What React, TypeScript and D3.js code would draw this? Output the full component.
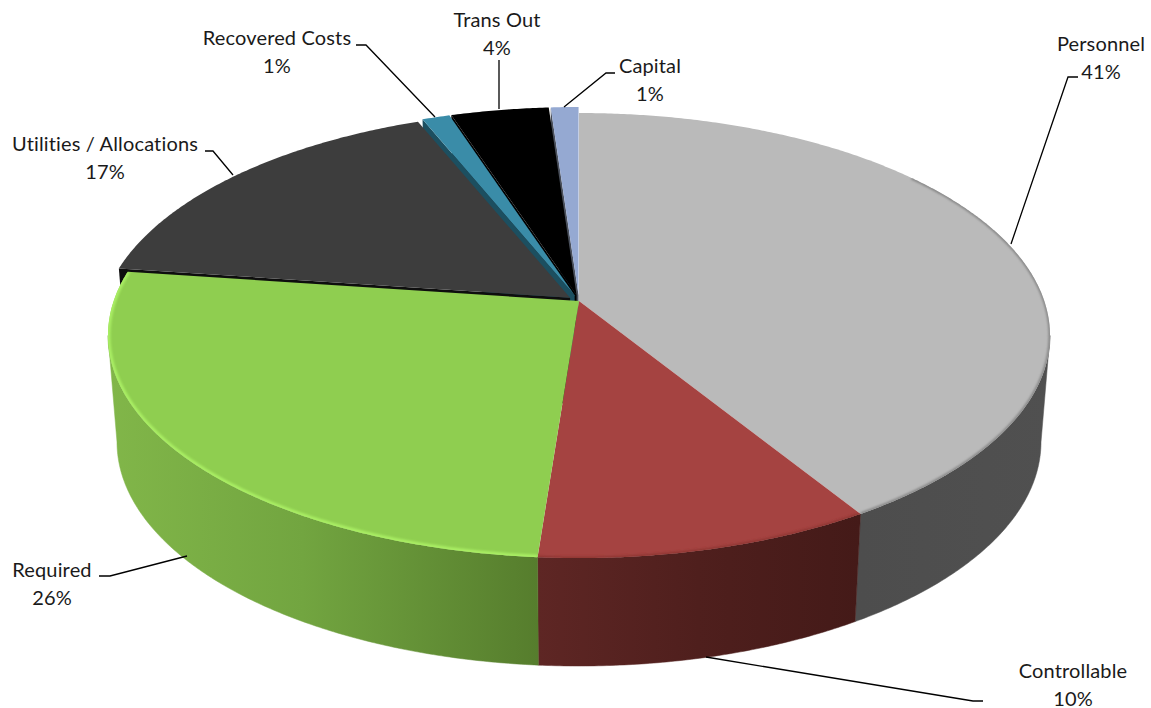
import React from "react";
import * as d3 from "d3";

// Budget shares per category, clockwise from twelve o'clock.
const categories = ["Personnel", "Controllable", "Required", "Utilities / Allocations", "Recovered Costs", "Trans Out", "Capital"];
const shares = [41.2, 10.0, 26.0, 16.7, 1.1, 3.9, 1.1];

const topColors = ["#BABABA", "#A54341", "#8FCE50", "#3D3D3D", "#3A8CA8", "#000000", "#95A9D2"];
const wallColors = ["#4E4E4E", "#4A1C1A", "#5F8A32", "#0E0E0E", "#1C4F60", "#000000", "#4A505C"];
const pulledOut = [0, 0, 0, 0.024, 0.027, 0.027, 0.027];

// Label text anchor, two baselines and the polyline running out to the slice.
const labelX = [1101, 1073, 52, 105, 277, 497, 650];
const labelY = [51, 678, 577, 151, 45, 27, 73];
const leaders: [number, number][][] = [
  [[1011, 244], [1068, 77], [1078, 77]],
  [[706, 657], [973, 701], [983, 701]],
  [[187, 556], [110, 576], [99, 576]],
  [[233, 175], [213, 151], [205, 151]],
  [[435, 117], [366, 45], [356, 45]],
  [[499, 109], [499, 60]],
  [[564, 107], [606, 73], [615, 73]],
];

const WIDTH = 1151;
const HEIGHT = 708;
const PERSPECTIVE = 0.155;

// Top and bottom rims of the drum as ellipses in screen space.
const topX = d3.scaleLinear().domain([-1, 1]).range([579 - 471, 579 + 471]);
const topY = d3.scaleLinear().domain([-1, 1]).range([335.5 + 222.5, 335.5 - 222.5]);
const botX = d3.scaleLinear().domain([-1, 1]).range([579 - 462, 579 + 462]);
const botY = d3.scaleLinear().domain([-1, 1]).range([442 + 224, 442 - 224]);

const pieLayout = d3.pie<number>().sort(null).startAngle(0).endAngle(2 * Math.PI);
const arcs = pieLayout(shares);
const line = d3.line();
const percent = (v: number) => `${d3.format(".0f")(v)}%`;

// Tilted disc: a projective map of the unit circle that keeps straight radii straight.
function discPoint(theta: number): [number, number] {
  const s = Math.sin(theta);
  const c = Math.cos(theta);
  const d = 1 + PERSPECTIVE * c;
  return [(s * Math.sqrt(1 - PERSPECTIVE * PERSPECTIVE)) / d, (c + PERSPECTIVE) / d];
}

function rim(a0: number, a1: number) {
  const n = Math.max(2, Math.ceil(Math.abs(a1 - a0) / 0.008));
  return d3.range(n + 1).map((i) => discPoint(a0 + ((a1 - a0) * i) / n));
}

function offsetOf(i: number): [number, number] {
  const mid = (arcs[i].startAngle + arcs[i].endAngle) / 2;
  return [pulledOut[i] * 471 * Math.sin(mid), -pulledOut[i] * 222.5 * Math.cos(mid)];
}

const onTop = (p: [number, number], o: [number, number]): [number, number] => [topX(p[0]) + o[0], topY(p[1]) + o[1]];
const onBot = (p: [number, number], o: [number, number]): [number, number] => [botX(p[0]) + o[0], botY(p[1]) + o[1]];
const apex: [number, number] = [0, PERSPECTIVE];

function topPath(i: number) {
  const o = offsetOf(i);
  const pts = [onTop(apex, o), ...rim(arcs[i].startAngle, arcs[i].endAngle).map((p) => onTop(p, o))];
  return line(pts) + "Z";
}

function bandPath(i: number, a0: number, a1: number) {
  const o = offsetOf(i);
  const r = rim(a0, a1);
  const pts = [...r.map((p) => onTop(p, o)), ...r.slice().reverse().map((p) => onBot(p, o))];
  return line(pts) + "Z";
}

// Radial wall of a pulled-out wedge, seen through the gap beside it.
function wallPath(i: number, theta: number) {
  const o = offsetOf(i);
  const e = discPoint(theta);
  return line([onTop(apex, o), onTop(e, o), onBot(e, o), onBot(apex, o)]) + "Z";
}

// Visible part of the outer wall runs between the two silhouette tangents.
const frontStart = Math.acos(-PERSPECTIVE);
const frontEnd = 2 * Math.PI - frontStart;
const frontSlices = [0, 1, 2];
const backWallOrder = [6, 5, 4, 3];
const backTopOrder = [3, 4, 5, 6];

const rimColors = ["#858585", "#8E3633", "#A9EE63"];
const rimWidth = [3, 3, 5];
// The grey wedge only darkens along its lower right edge.
const rimFrom = [0.9, 0, 0];

export default function App() {
  return (
    <svg width={WIDTH} height={HEIGHT} viewBox={`0 0 ${WIDTH} ${HEIGHT}`}
      style={{ position: "absolute", left: 0, top: 0, background: "#fff" }}>
      <defs>
        <filter id="soft" x="-5%" y="-5%" width="110%" height="110%">
          <feGaussianBlur stdDeviation="1.1" />
        </filter>
        <linearGradient id="wall0" gradientUnits="userSpaceOnUse" x1="860" x2="1050" y1="0" y2="0">
          <stop offset="0" stopColor="#4D4D4D" />
          <stop offset="1" stopColor="#505050" />
        </linearGradient>
        <linearGradient id="wall1" gradientUnits="userSpaceOnUse" x1="538" x2="860" y1="0" y2="0">
          <stop offset="0" stopColor="#5E2624" />
          <stop offset="0.5" stopColor="#4F1F1D" />
          <stop offset="1" stopColor="#441A18" />
        </linearGradient>
        <linearGradient id="wall2" gradientUnits="userSpaceOnUse" x1="110" x2="538" y1="0" y2="0">
          <stop offset="0" stopColor="#81B649" />
          <stop offset="0.45" stopColor="#72A540" />
          <stop offset="1" stopColor="#567D2D" />
        </linearGradient>
        {frontSlices.map((i) => (
          <clipPath id={`top${i}`} key={i}>
            <path d={topPath(i)} />
          </clipPath>
        ))}
      </defs>

      <g>
        {backWallOrder.map((i) => (
          <path key={`w${i}`} d={wallPath(i, arcs[i].startAngle)} fill={wallColors[i]} />
        ))}
        {backTopOrder.map((i) => (
          <path key={`t${i}`} d={topPath(i)} fill={topColors[i]} />
        ))}
      </g>

      <g>
        {frontSlices.map((i) => {
          const a0 = Math.max(arcs[i].startAngle, frontStart);
          const a1 = Math.min(arcs[i].endAngle, frontEnd);
          return <path key={i} d={bandPath(i, a0, a1)} fill={`url(#wall${i})`} stroke={`url(#wall${i})`} strokeWidth={0.5} />;
        })}
      </g>

      <g>
        {frontSlices.map((i) => (
          <g key={i}>
            <path d={topPath(i)} fill={topColors[i]} />
            <g clipPath={`url(#top${i})`}>
              <path
                d={line(rim(Math.max(arcs[i].startAngle, rimFrom[i]), arcs[i].endAngle).map((p) => onTop(p, [0, 0]))) ?? ""}
                fill="none"
                stroke={rimColors[i]}
                strokeWidth={rimWidth[i]}
                filter="url(#soft)"
              />
            </g>
          </g>
        ))}
      </g>

      <g fill="none" stroke="#000" strokeWidth={1.3}>
        {leaders.map((pts, i) => (
          <path key={i} d={line(pts) ?? ""} />
        ))}
      </g>

      <g fontFamily="Lato, 'Open Sans', sans-serif" fontSize={20} letterSpacing={0.15} fill="#1a1a1a" textAnchor="middle">
        {categories.map((name, i) => (
          <text key={name}>
            <tspan x={labelX[i]} y={labelY[i]}>{name}</tspan>
            <tspan x={labelX[i]} y={labelY[i] + 27.5}>{percent(shares[i])}</tspan>
          </text>
        ))}
      </g>
    </svg>
  );
}
